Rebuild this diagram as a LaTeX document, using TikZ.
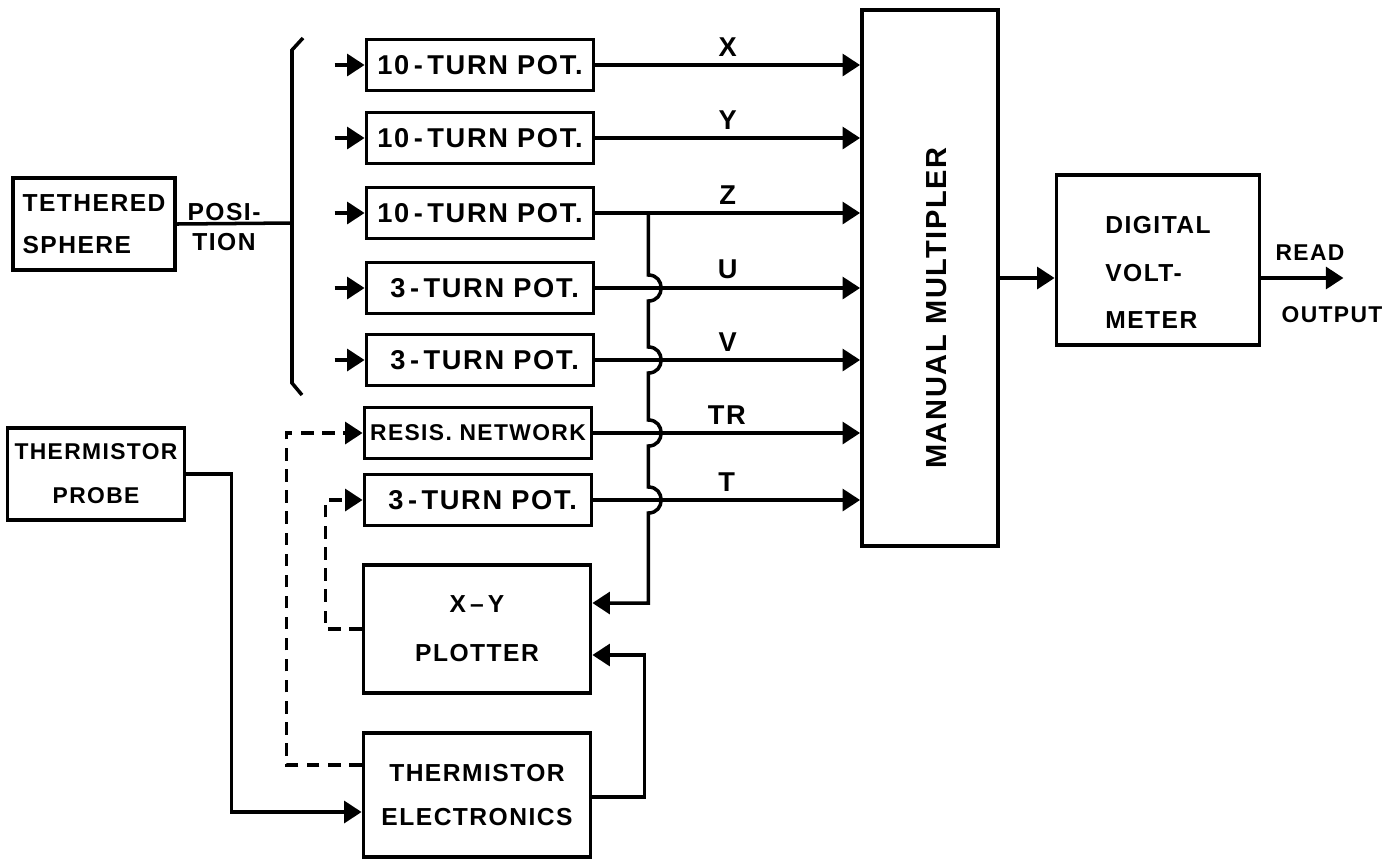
\documentclass[tikz,border=0pt]{standalone}
\usepackage{fontspec}
\setsansfont{Liberation Sans}[LetterSpace=6]
\usetikzlibrary{arrows.meta, calc}

\begin{document}
\begin{tikzpicture}[x=0.02cm, y=-0.02cm,
        block/.style={draw, line width=2.2pt, inner sep=2pt, align=center, font=\sffamily\bfseries\fontsize{14}{25}\selectfont},
        pot/.style={block, minimum width=4.54cm, minimum height=1.02cm, font=\sffamily\bfseries\fontsize{15.5}{18}\selectfont},
        wire/.style={line width=2pt},
        arr/.style={wire, -{Triangle[length=10pt, width=12.5pt]}},
        dasharr/.style={arr, dash pattern=on 7pt off 5pt},
        sig/.style={font=\sffamily\bfseries\fontsize{15.5}{18}\selectfont, inner sep=1pt}
    ]
        \useasboundingbox (0,0) rectangle (1399,860);

        \node[block, minimum width=3.24cm, minimum height=1.84cm, align=left, font=\sffamily\bfseries\fontsize{14}{24}\selectfont] (sphere) at (94,224) {TETHERED\\SPHERE};
        \node[sig, align=center, font=\sffamily\bfseries\fontsize{14}{17}\selectfont] (posi) at (224,227) {POSI-\\TION};
        \node[block, minimum width=3.54cm, minimum height=1.84cm, font=\sffamily\bfseries\fontsize{13}{25}\selectfont] (probe) at (96,474) {THERMISTOR\\PROBE};

        \node[pot] (px) at (480,65) {10\,-\,TURN\ POT.};
        \node[pot] (py) at (480,138) {10\,-\,TURN\ POT.};
        \node[pot] (pz) at (480,213) {10\,-\,TURN\ POT.};
        \node[pot] (pu) at (480,288) {\ 3\,-\,TURN\ POT.};
        \node[pot] (pv) at (480,360) {\ 3\,-\,TURN\ POT.};
        \node[pot, font=\sffamily\bfseries\fontsize{13}{16}\selectfont] (pr) at (478,433) {RESIS. NETWORK};
        \node[pot] (pt) at (478,500) {\ 3\,-\,TURN\ POT.};
        \node[block, minimum width=4.54cm, minimum height=2.56cm, font=\sffamily\bfseries\fontsize{14}{28}\selectfont] (plot) at (477,629) {X\,--\,Y\\PLOTTER};
        \node[block, minimum width=4.54cm, minimum height=2.48cm] (elec) at (477,795) {THERMISTOR\\ELECTRONICS};

        \node[block, minimum width=2.72cm, minimum height=10.72cm] (mult) at (930,278) {};
        \node[sig, rotate=90, font=\sffamily\bfseries\fontsize{16.5}{18}\selectfont] (multtext) at (937,308) {MANUAL MULTIPLER};
        \node[block, minimum width=4.06cm, minimum height=3.4cm, align=left, font=\sffamily\bfseries\fontsize{14}{27}\selectfont] (dvm) at (1158,260) {\rule{0pt}{24pt}DIGITAL\\VOLT-\\METER};

        \coordinate (brk) at (292,223);
        \draw[wire] (303,38) -- (292,50) -- (292,383) -- (302,395);
        \draw[wire] (sphere.east) -- (brk);

        \foreach \n in {px,py,pz,pu,pv}
            \draw[arr] ([xshift=-0.6cm]\n.west) -- (\n.west);
        \foreach \n/\s in {px/X,py/Y,pz/Z,pu/U,pv/V,pr/TR,pt/T}
            \draw[arr] (\n.east) -- (\n.east -| mult.west) node[sig, midway, above=3pt] {\s};

        \coordinate (jz) at ($(pz.east)+(53,0)$);
        \coordinate (pin1) at ([yshift=0.52cm]plot.east);
        \coordinate (pin2) at ([yshift=-0.52cm]plot.east);
        \draw[arr] (jz) \foreach \n in {pu,pv,pr,pt} { -- ($(jz |- \n.east)+(0,-13)$) .. controls +(17,0) and +(17,0) .. ($(jz |- \n.east)+(0,13)$) } -- (jz |- pin1) -- (pin1);
        \draw[arr] ([yshift=-0.04cm]elec.east) -- ++(52,0) |- (pin2);
        \draw[arr] (probe.east) -- ++(45,0) |- ([yshift=-0.34cm]elec.west);
        \draw[dasharr] ([yshift=0.6cm]elec.west) -- ++(-75,0) |- (pr.west);
        \draw[dasharr] (plot.west) -- ++(-36,0) |- (pt.west);

        \draw[arr] (mult.east) -- (mult.east -| dvm.west);
        \draw[arr] (mult.east -| dvm.east) -- ++(82,0) coordinate (out);
        \node[sig, font=\sffamily\bfseries\fontsize{13}{16}\selectfont] (read) at (1310,253) {READ};
        \node[sig, font=\sffamily\bfseries\fontsize{13}{16}\selectfont] (outp) at (1332,315) {OUTPUT};
    \end{tikzpicture}
\end{document}
